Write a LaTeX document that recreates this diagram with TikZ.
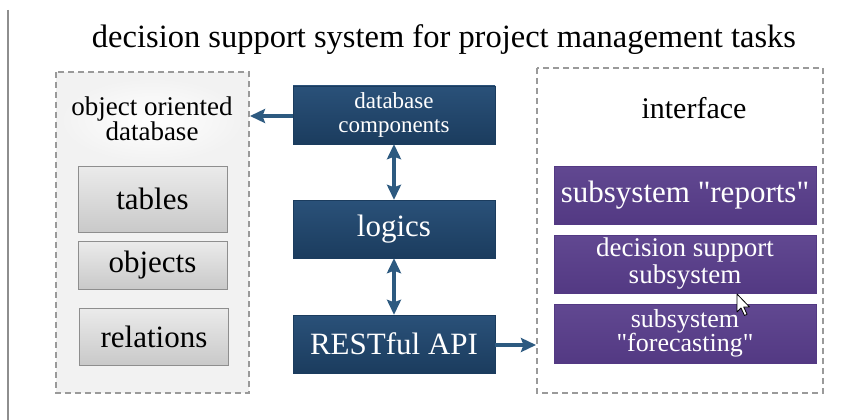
\documentclass[tikz,border=0pt]{standalone}
\usepackage{fontspec}
\setmainfont{Liberation Serif}
\usetikzlibrary{arrows.meta}

\definecolor{navytop}{HTML}{2A5179}
\definecolor{navybot}{HTML}{1B3C5E}
\definecolor{purptop}{HTML}{614891}
\definecolor{purpbot}{HTML}{533983}
\definecolor{greytop}{HTML}{EBEBEB}
\definecolor{greybot}{HTML}{C9C9C9}
\definecolor{greyedge}{HTML}{8E8E8E}
\definecolor{panelfill}{HTML}{F2F2F2}
\definecolor{dashgrey}{HTML}{9A9A9A}
\definecolor{linkblue}{HTML}{2D5A80}

\newcommand{\fs}[2]{\fontsize{#1}{#2}\selectfont}
\newcommand{\qq}{\textquotedbl}

\tikzset{
  panel/.style={draw=dashgrey, line width=1.4pt, dash pattern=on 6pt off 4pt},
  navybox/.style={top color=navytop, bottom color=navybot, draw=navybot,
    text=white, align=center, minimum width=202pt, minimum height=58pt,
    inner sep=0pt},
  purpbox/.style={top color=purptop, bottom color=purpbot, draw=purpbot,
    text=white, align=center, minimum width=262pt, minimum height=58pt,
    inner sep=0pt},
  greybox/.style={top color=greytop, bottom color=greybot, draw=greyedge,
    line width=0.8pt, text=black, align=center, minimum width=149pt,
    inner sep=0pt, font=\fs{31}{33}},
  tip/.style={Stealth[length=15pt,width=14pt,inset=2.5pt]},
  link/.style={draw=linkblue, line width=3.2pt, -{Stealth[length=15pt,width=14pt,inset=2.5pt]}},
  twoway/.style={draw=linkblue, line width=3.2pt,
    {Stealth[length=15pt,width=14pt,inset=2.5pt]}-{Stealth[length=15pt,width=14pt,inset=2.5pt]}},
}

\begin{document}
\begin{tikzpicture}[x=1pt,y=-1pt]
\useasboundingbox[fill=white] (0,0) rectangle (847,420);

% page margin rule on the left
\draw[greyedge, line width=1.2pt] (8,10) -- (8,420);

% title
\node[font=\fs{32.5}{36}] (title) at (444,40) {decision support system for project management tasks};

% database panel
\fill[panelfill] (56,72) rectangle (249,393);
\shade[inner color=white, outer color=panelfill] (152,120) ellipse (92pt and 42pt);
\draw[panel] (56,72) rectangle (249,393);
\node[align=center, font=\fs{27}{25}] (dbtitle) at (152,119) {object oriented\\database};

\node[greybox, minimum height=66pt] (tables) at (152.5,199) {tables};
\node[greybox, minimum height=48pt] (objects) at (152.5,265) {objects};
\node[greybox, minimum height=57pt] (relations) at (154,336.5) {relations};

% interface panel
\draw[panel] (537,68) rectangle (823,393);
\node[font=\fs{30}{32}] (iftitle) at (694,108) {interface};

\node[purpbox, font=\fs{31}{33}] (reports) at (685,195) {subsystem \qq reports\qq};
\node[purpbox, font=\fs{27}{27}] (dss) at (685,264) {decision support\\subsystem};
\node[purpbox, minimum height=59pt, font=\fs{26}{24}] (forecast) at (685,333.5) {subsystem\\\qq forecasting\qq};

% central stack
\node[navybox, font=\fs{23}{24}] (dbcomp) at (394,115) {database\\components};
\node[navybox, font=\fs{31}{33}] (logics) at (394,229) {logics};
\node[navybox, font=\fs{31}{33}] (rest) at (394,344) {RESTful API};

% connectors
\coordinate (dbin) at (250,116);
\coordinate (ifin) at (536,345);
\draw[link] (dbcomp.west |- dbin) -- (dbin);
\draw[twoway] (dbcomp) -- (logics);
\draw[twoway] (logics) -- (rest);
\draw[link] (rest.east |- ifin) -- (ifin);

% mouse pointer
\draw[fill=white, line width=0.8pt, line join=round]
  (737,294) -- ++(0,18) -- ++(4,-4) -- ++(3.5,7.5) -- ++(2.6,-1.2)
  -- ++(-3.4,-7.3) -- ++(5.8,0) -- cycle;
\end{tikzpicture}
\end{document}
